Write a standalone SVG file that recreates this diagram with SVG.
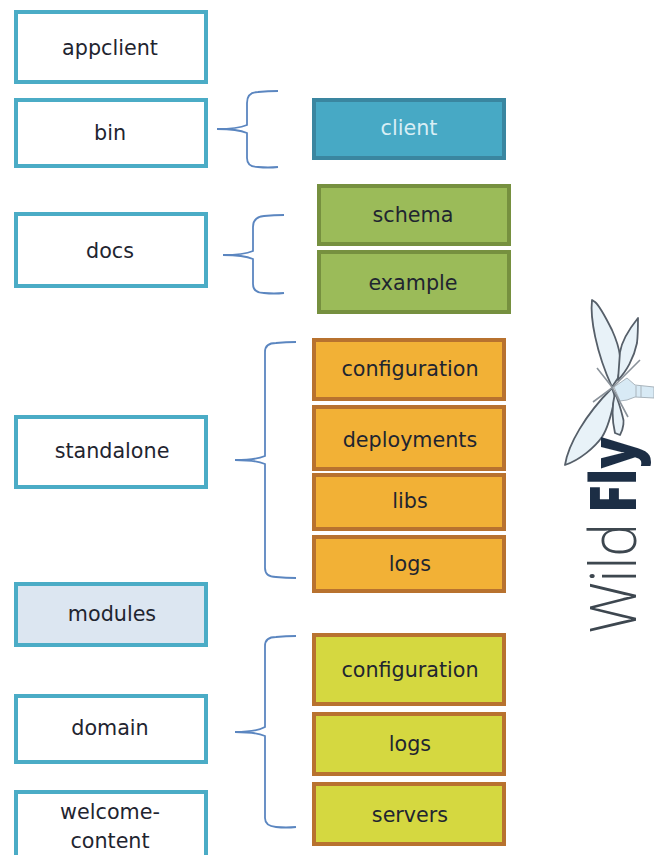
<svg xmlns="http://www.w3.org/2000/svg" width="654" height="855" viewBox="0 0 654 855">
<style>
text{font-family:"DejaVu Sans",Verdana,sans-serif;font-size:20.7px;fill:#1f2530;text-anchor:middle}
.l{fill:#fff;stroke:#4bacc6;stroke-width:4}
.m{fill:#dce6f1;stroke:#4bacc6;stroke-width:4}
.c{fill:#47a9c5;stroke:#3a86a0;stroke-width:4}
.g{fill:#9bbb59;stroke:#76903f;stroke-width:4}
.o{fill:#f2b136;stroke:#b8722f;stroke-width:4}
.y{fill:#d5d840;stroke:#b8722f;stroke-width:4}
.b{fill:none;stroke:#5b86c0;stroke-width:1.8}
.w{fill:#e8f2f8;stroke:#565f69;stroke-width:1.8;stroke-linejoin:round}
.v{fill:none;stroke:#8b939b;stroke-width:1.6}
.logo-t{font-family:"Open Sans",sans-serif;font-size:64px;text-anchor:start}
</style>
<defs><filter id="soft" x="-5%" y="-5%" width="110%" height="110%"><feGaussianBlur stdDeviation="0.6"/></filter></defs>
<g id="connectors">
<path class="b" d="M217 129C232 129 240 128 247 125V103Q247 92 258 92Q268 91 278 91M217 129C232 129 240 130 247 133V158Q247 167 258 167Q268 168 278 167"/>
<path class="b" d="M223 255C238 255 246 254 253 251V227Q253 217 264 216Q274 215 284 215M223 255C238 255 246 256 253 259V284Q253 293 264 293Q274 294 284 293"/>
<path class="b" d="M235 460C250 460 258 459 265 456V352Q265 343 276 343Q286 342 296 342M235 460C250 460 258 461 265 464V568Q265 577 276 577Q286 578 296 578"/>
<path class="b" d="M235 732C250 732 258 731 265 727V646Q265 637 276 637Q286 636 296 636M235 732C250 732 258 733 265 736V818Q265 826 276 827Q286 828 296 827"/>
</g>
<g id="appclient"><rect class="l" x="16" y="12" width="190" height="70"/><text x="110" y="55">appclient</text></g>
<g id="bin"><rect class="l" x="16" y="100" width="190" height="66"/><text x="110" y="140">bin</text></g>
<g id="docs"><rect class="l" x="16" y="214" width="190" height="72"/><text x="110" y="258">docs</text></g>
<g id="standalone"><rect class="l" x="16" y="417" width="190" height="70"/><text x="112" y="458">standalone</text></g>
<g id="modules"><rect class="m" x="16" y="584" width="190" height="61"/><text x="112" y="621">modules</text></g>
<g id="domain"><rect class="l" x="16" y="696" width="190" height="66"/><text x="110" y="735">domain</text></g>
<g id="welcome-content"><rect class="l" x="16" y="792" width="190" height="70"/><text x="110" y="819">welcome-</text><text x="110" y="848">content</text></g>
<g id="client"><rect class="c" x="314" y="100" width="190" height="58"/><text x="409" y="135" style="fill:#d8eef5">client</text></g>
<g id="schema"><rect class="g" x="319" y="186" width="190" height="58"/><text x="413" y="222">schema</text></g>
<g id="example"><rect class="g" x="319" y="252" width="190" height="60"/><text x="413" y="290">example</text></g>
<g id="configuration-1"><rect class="o" x="314" y="340" width="190" height="59"/><text x="410" y="376">configuration</text></g>
<g id="deployments"><rect class="o" x="314" y="407" width="190" height="62"/><text x="410" y="447">deployments</text></g>
<g id="libs"><rect class="o" x="314" y="475" width="190" height="54"/><text x="410" y="508">libs</text></g>
<g id="logs-1"><rect class="o" x="314" y="537" width="190" height="54"/><text x="410" y="571">logs</text></g>
<g id="configuration-2"><rect class="y" x="314" y="635" width="190" height="69"/><text x="410" y="677">configuration</text></g>
<g id="logs-2"><rect class="y" x="314" y="714" width="190" height="60"/><text x="410" y="751">logs</text></g>
<g id="servers"><rect class="y" x="314" y="784" width="190" height="60"/><text x="410" y="822">servers</text></g>
<g id="logo" filter="url(#soft)">
<path class="w" d="M592 300C590 318 596 352 612 387L618 378C622 362 621 350 612 330C606 318 600 306 595 302Z"/>
<path class="w" d="M638 318C630 328 622 340 620 352L618 380C626 372 634 358 637 343C638 334 638 326 638 318Z"/>
<path class="w" d="M565 465C568 445 585 415 612 388L615 397C612 412 608 428 602 437C595 447 580 460 565 465Z"/>
<path class="w" d="M615 393C612 405 612 420 615 433L620 435C624 428 624 420 623 418C621 410 618 400 615 393Z"/>
<path d="M614 387L627 378L635 385L654 387V398L635 397L627 400L620 401Z" fill="#d8eaf5" stroke="#a9b4bc"/>
<path d="M636 386V397M641 386V397" fill="none" stroke="#a9b4bc"/>
<path class="v" d="M597 368L612 387L628 417M593 402L612 388L640 360"/>
<text class="logo-t" transform="translate(636,633) rotate(-90)" textLength="110" lengthAdjust="spacingAndGlyphs" style="font-weight:300;fill:#3d4650">Wild</text>
<text class="logo-t" transform="translate(636,513) rotate(-90)" textLength="76" lengthAdjust="spacingAndGlyphs" style="font-weight:800;fill:#1d2f45">Fly</text>
</g>
</svg>
